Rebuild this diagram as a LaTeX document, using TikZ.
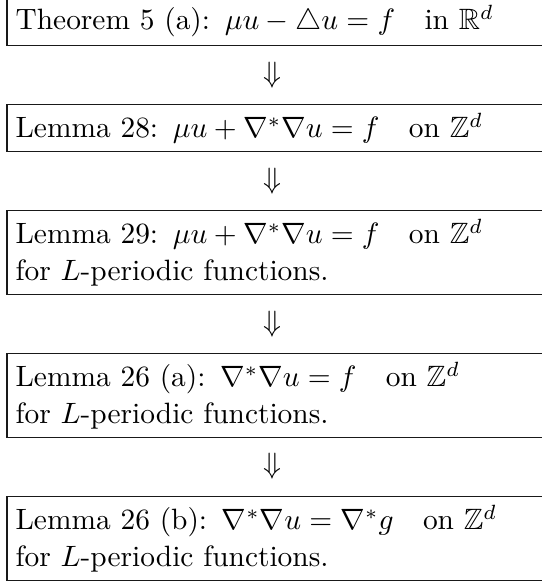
\documentclass[tikz,border=0pt]{standalone}
\usepackage{amsmath,amssymb}
\begin{document}
\begin{tikzpicture}[x=0.34pt,y=-0.34pt,
  box/.style={draw=black!90, line width=0.4pt, anchor=north west, text width=300pt, align=left,
    inner xsep=2.9pt, inner ysep=2.8pt, font=\fontsize{10}{12.6}\selectfont},
  implies/.style={inner sep=0pt}]
\useasboundingbox (0,0) rectangle (542,583);
\node[box] (t5) at (6.5,-4) {Theorem 5 (a): $\mu u - \triangle u = f \quad \mbox{in } \mathbb{R}^d$};
\node[box] (l28) at (6.5,104) {Lemma 28: $\mu u + \nabla^*\nabla u = f \quad \mbox{on } \mathbb{Z}^d$};
\node[box] (l29) at (6.5,210) {Lemma 29: $\mu u + \nabla^*\nabla u = f \quad \mbox{on } \mathbb{Z}^d$\\ for $L$-periodic functions.};
\node[box] (l26a) at (6.5,353) {Lemma 26 (a): $\nabla^*\nabla u = f \quad \mbox{on } \mathbb{Z}^d$\\ for $L$-periodic functions.};
\node[box] (l26b) at (6.5,496) {Lemma 26 (b): $\nabla^*\nabla u = \nabla^* g \quad \mbox{on } \mathbb{Z}^d$\\ for $L$-periodic functions.};
\node[implies] (a1) at (272,75) {$\Downarrow$};
\node[implies] (a2) at (272,181) {$\Downarrow$};
\node[implies] (a3) at (272,324) {$\Downarrow$};
\node[implies] (a4) at (272,466) {$\Downarrow$};
\end{tikzpicture}
\end{document}
